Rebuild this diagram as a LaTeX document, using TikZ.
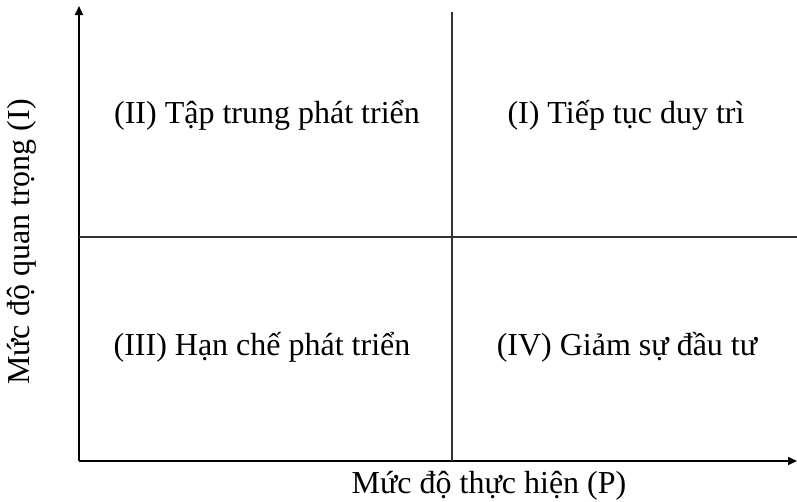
\documentclass[tikz,border=0pt]{standalone}
\usepackage{fontspec}
\setmainfont{Liberation Serif}
\usetikzlibrary{arrows.meta,positioning}

\begin{document}
\begin{tikzpicture}[x=1pt,y=-1pt,
    axis/.style={line width=2pt, -{Triangle[length=9pt,width=8pt]}},
    divider/.style={black!80, line width=1.3pt},
    quadtext/.style={font=\fontsize{32}{38}\selectfont, inner sep=0pt}]
    \useasboundingbox (0,0) rectangle (797,501);

    % Axes
    \coordinate (o) at (79,461);
    \coordinate (ytop) at (79,6);
    \coordinate (xend) at (797,461);
    \draw[axis] (o) -- (ytop);
    \draw[axis] (o) -- (xend);

    % Dividers
    \coordinate (vtop) at (452,12);
    \coordinate (vbot) at (452,461);
    \coordinate (hleft) at (79,237);
    \coordinate (hright) at (797,237);
    \draw[divider] (vtop) -- (vbot);
    \draw[divider] (hleft) -- (hright);

    % Quadrants
    \node[quadtext] (q2) at (267,115) {(II) Tập trung phát triển};
    \node[quadtext] (q1) at (626,115) {(I) Tiếp tục duy trì};
    \node[quadtext] (q3) at (262,347) {(III) Hạn chế phát triển};
    \node[quadtext] (q4) at (627,347) {(IV) Giảm sự đầu tư};

    % Axis labels
    \node[quadtext] (xlab) at (489,486) {Mức độ thực hiện (P)};
    \node[quadtext, rotate=90] (ylab) at (22,242) {Mức độ quan trọng (I)};
\end{tikzpicture}
\end{document}
